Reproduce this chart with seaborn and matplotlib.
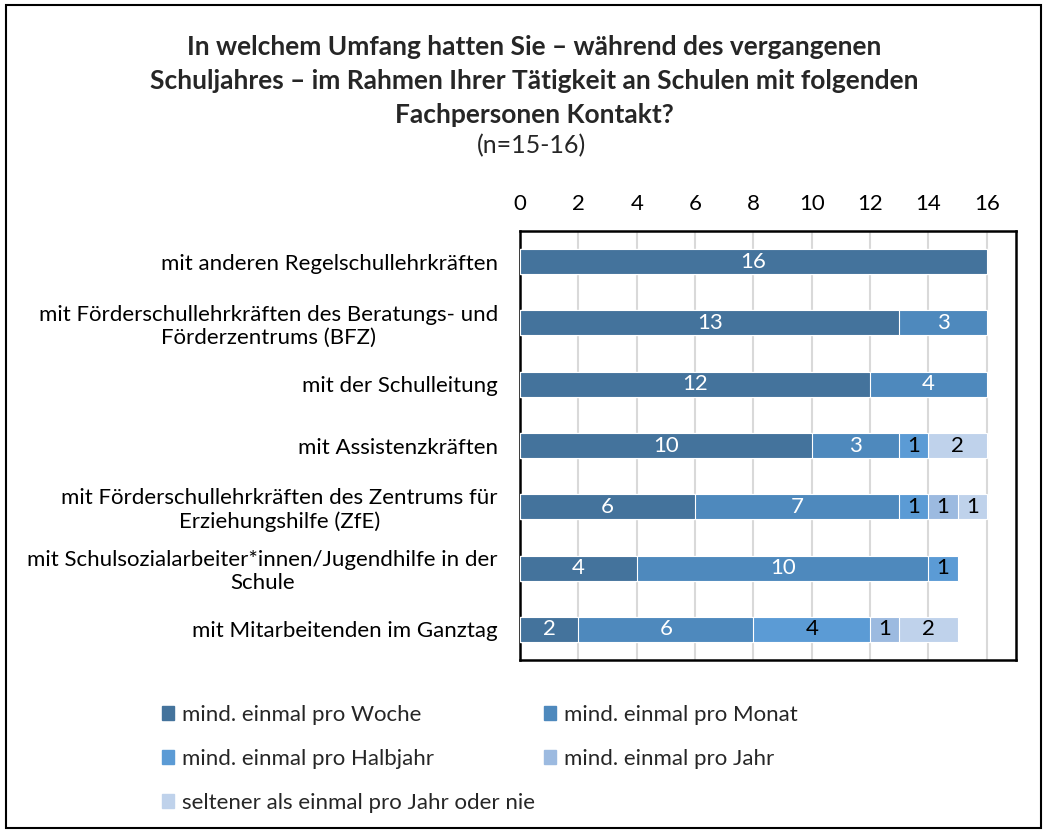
import numpy as np
import pandas as pd
import matplotlib
matplotlib.use("Agg")
import matplotlib.pyplot as plt
import matplotlib.patches as mpatches
import seaborn as sns

# Daten
categories = [
    "mit anderen Regelschullehrkräften",
    "mit Förderschullehrkräften des Beratungs- und\nFörderzentrums (BFZ)",
    "mit der Schulleitung",
    "mit Assistenzkräften",
    "mit Förderschullehrkräften des Zentrums für\nErziehungshilfe (ZfE)",
    "mit Schulsozialarbeiter*innen/Jugendhilfe in der\nSchule",
    "mit Mitarbeitenden im Ganztag",
]
series = [
    "mind. einmal pro Woche",
    "mind. einmal pro Monat",
    "mind. einmal pro Halbjahr",
    "mind. einmal pro Jahr",
    "seltener als einmal pro Jahr oder nie",
]
woche = [16, 13, 12, 10, 6, 4, 2]
monat = [0, 3, 4, 3, 7, 10, 6]
halbjahr = [0, 0, 0, 1, 1, 1, 4]
jahr = [0, 0, 0, 0, 1, 0, 1]
seltener = [0, 0, 0, 2, 1, 0, 2]

colors = ["#44739C", "#4E89BD", "#5B9BD5", "#9CBAE0", "#BFD2EB"]
text_colors = ["white", "white", "black", "black", "black"]

df = pd.DataFrame({"Kategorie": categories, series[0]: woche, series[1]: monat,
                   series[2]: halbjahr, series[3]: jahr, series[4]: seltener})
cum = df[series].cumsum(axis=1)

sns.set_theme(style="white")
plt.rcParams['font.family'] = ['Lato', 'DejaVu Sans']

fig = plt.figure(figsize=(10.47, 8.33), dpi=100)
ax = fig.add_axes([520 / 1047, 1 - 660 / 833, (1016 - 520) / 1047, (660 - 231) / 833])

# gestapelte Balken: kumulierte Summen von hinten nach vorne
for i in range(len(series) - 1, -1, -1):
    sns.barplot(x=cum[series[i]], y=df["Kategorie"], orient="h", color=colors[i],
                saturation=1, width=0.41, edgecolor="white", linewidth=0.8, ax=ax, zorder=3)

# Werte in die Balken
for r in range(len(categories)):
    left = 0
    for i, s in enumerate(series):
        v = df.loc[r, s]
        if v > 0:
            ax.text(left + v / 2, r, str(v), ha="center", va="center",
                    color=text_colors[i], fontsize=16, zorder=5)
        left += v

ax.set_xlim(0, 17)
ax.set_ylim(6.5, -0.5)
ax.set_xticks(np.arange(0, 17, 2))
ax.xaxis.tick_top()
ax.tick_params(axis="x", length=0, pad=12, labelsize=16, colors="black")
ax.tick_params(axis="y", length=0, pad=16, labelsize=16, colors="black")
for lbl in ax.get_yticklabels():
    lbl.set_multialignment("center")
ax.grid(axis="x", color="#D9D9D9", linewidth=1.5, zorder=0)
ax.set_axisbelow(True)
ax.set_xlabel("")
ax.set_ylabel("")
for sp in ax.spines.values():
    sp.set_visible(True)
    sp.set_color("black")
    sp.set_linewidth(1.8)

# Titel
fig.text(0.510, 1 - 81 / 833,
         "In welchem Umfang hatten Sie – während des vergangenen\n"
         "Schuljahres – im Rahmen Ihrer Tätigkeit an Schulen mit folgenden\n"
         "Fachpersonen Kontakt?",
         ha="center", va="center", fontsize=19, fontweight="bold", linespacing=1.5)
fig.text(0.508, 1 - 146 / 833, "(n=15-16)", ha="center", va="center", fontsize=18)

# Legende (zeilenweise Reihenfolge)
handles = [mpatches.Patch(color=c) for c in colors]
order = [0, 2, 4, 1, 3]
fig.legend([handles[i] for i in order], [series[i] for i in order],
           loc="upper left", bbox_to_anchor=(142 / 1047, 1 - 685 / 833), ncol=2,
           frameon=False, fontsize=16, handlelength=0.55, handleheight=0.55,
           handletextpad=0.35, labelspacing=1.08, columnspacing=0.4)

# Rahmen um die Grafik
fig.patches.append(mpatches.Rectangle((0.006, 0.006), 0.988, 0.988, transform=fig.transFigure,
                                      fill=False, edgecolor="black", linewidth=1.5))

fig.savefig("out.png", dpi=100)
